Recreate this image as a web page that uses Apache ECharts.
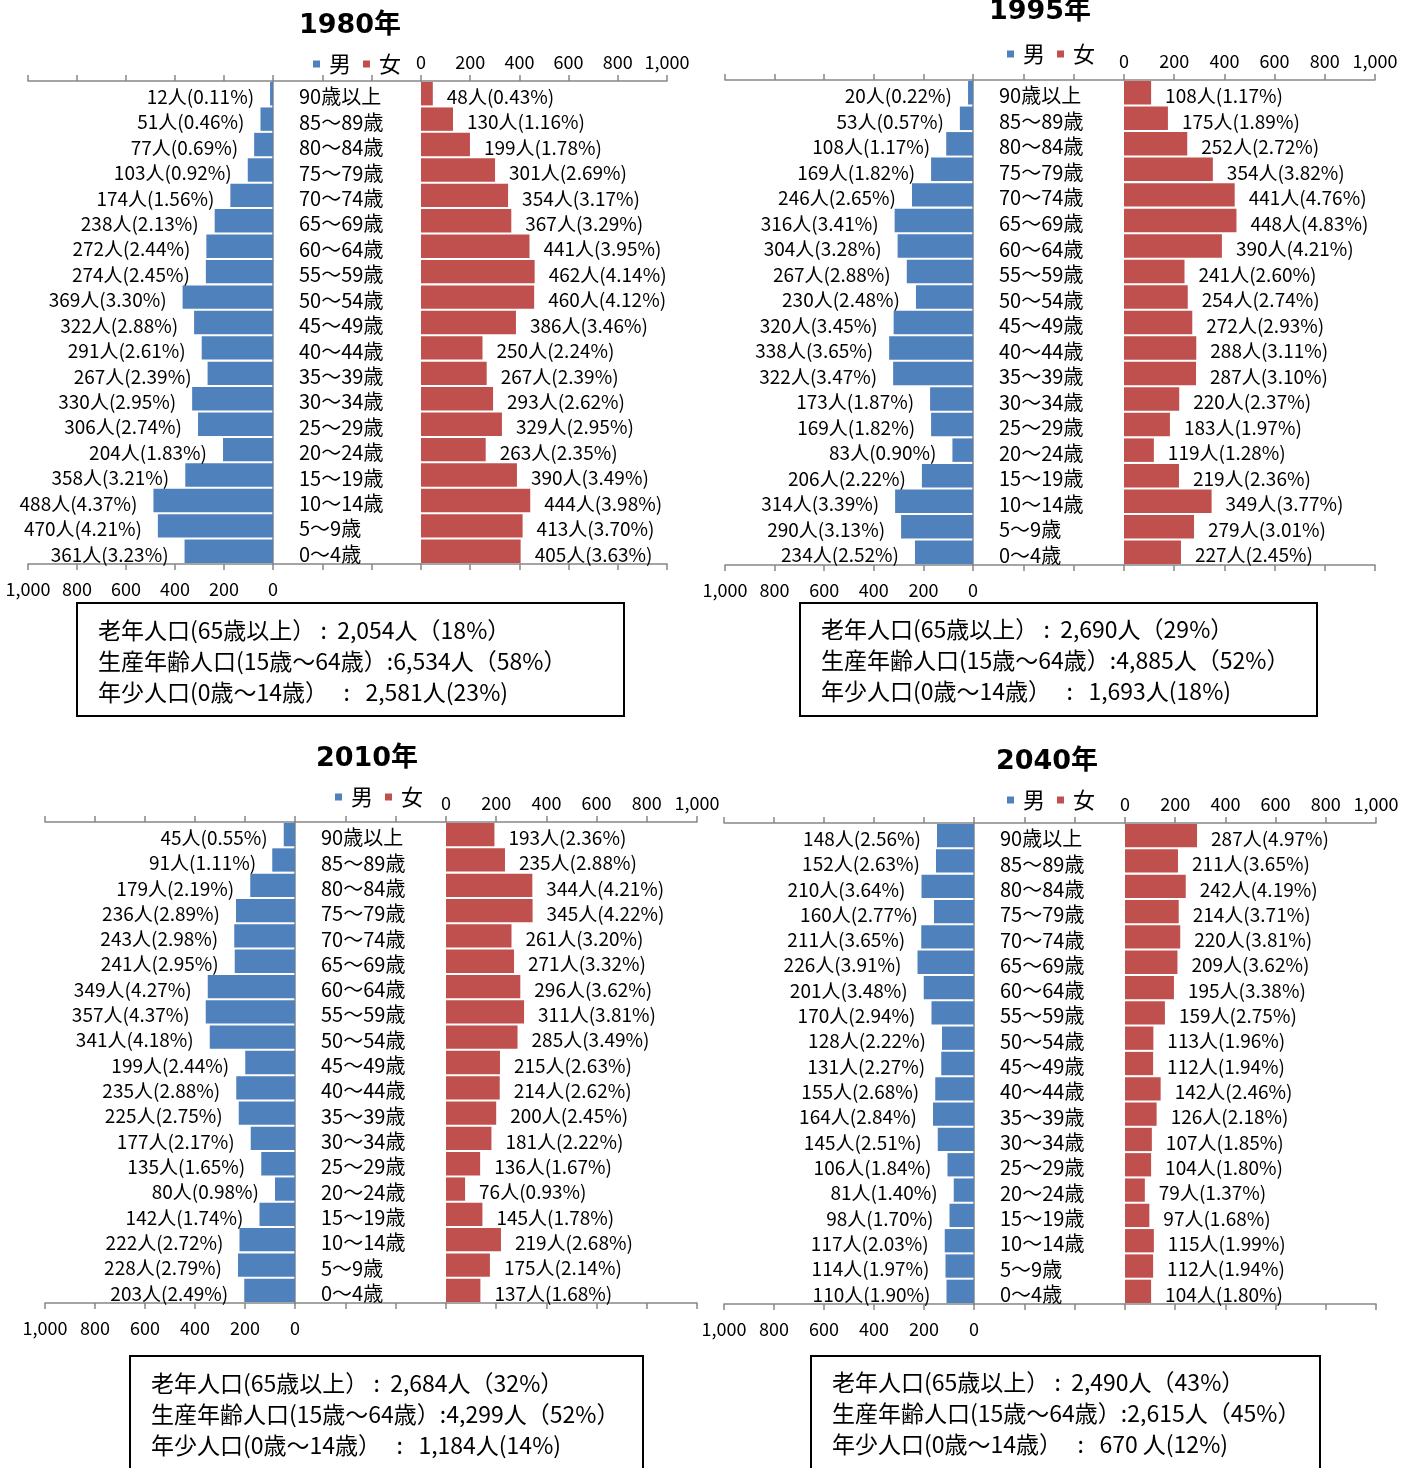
<!DOCTYPE html>
<html><head><meta charset="utf-8">
<script src="https://cdn.jsdelivr.net/npm/echarts@6/dist/echarts.min.js"></script>
<style>html,body{margin:0;padding:0;background:#fff}#c{width:1417px;height:1468px}</style>
</head><body><div id="c"></div>
<script>
// ---------------- DATA ----------------
const categories = ['90歳以上','85～89歳','80～84歳','75～79歳','70～74歳','65～69歳','60～64歳','55～59歳','50～54歳','45～49歳','40～44歳','35～39歳','30～34歳','25～29歳','20～24歳','15～19歳','10～14歳','5～9歳','0～4歳'];
const years = ['1980年','1995年','2010年','2040年'];
const axisTicks = [0,200,400,600,800,1000];

const male1980   = [12,51,77,103,174,238,272,274,369,322,291,267,330,306,204,358,488,470,361];
const malePct1980= [0.11,0.46,0.69,0.92,1.56,2.13,2.44,2.45,3.30,2.88,2.61,2.39,2.95,2.74,1.83,3.21,4.37,4.21,3.23];
const female1980 = [48,130,199,301,354,367,441,462,460,386,250,267,293,329,263,390,444,413,405];
const femalePct1980=[0.43,1.16,1.78,2.69,3.17,3.29,3.95,4.14,4.12,3.46,2.24,2.39,2.62,2.95,2.35,3.49,3.98,3.70,3.63];

const male1995   = [20,53,108,169,246,316,304,267,230,320,338,322,173,169,83,206,314,290,234];
const malePct1995= [0.22,0.57,1.17,1.82,2.65,3.41,3.28,2.88,2.48,3.45,3.65,3.47,1.87,1.82,0.90,2.22,3.39,3.13,2.52];
const female1995 = [108,175,252,354,441,448,390,241,254,272,288,287,220,183,119,219,349,279,227];
const femalePct1995=[1.17,1.89,2.72,3.82,4.76,4.83,4.21,2.60,2.74,2.93,3.11,3.10,2.37,1.97,1.28,2.36,3.77,3.01,2.45];

const male2010   = [45,91,179,236,243,241,349,357,341,199,235,225,177,135,80,142,222,228,203];
const malePct2010= [0.55,1.11,2.19,2.89,2.98,2.95,4.27,4.37,4.18,2.44,2.88,2.75,2.17,1.65,0.98,1.74,2.72,2.79,2.49];
const female2010 = [193,235,344,345,261,271,296,311,285,215,214,200,181,136,76,145,219,175,137];
const femalePct2010=[2.36,2.88,4.21,4.22,3.20,3.32,3.62,3.81,3.49,2.63,2.62,2.45,2.22,1.67,0.93,1.78,2.68,2.14,1.68];

const male2040   = [148,152,210,160,211,226,201,170,128,131,155,164,145,106,81,98,117,114,110];
const malePct2040= [2.56,2.63,3.64,2.77,3.65,3.91,3.48,2.94,2.22,2.27,2.68,2.84,2.51,1.84,1.40,1.70,2.03,1.97,1.90];
const female2040 = [287,211,242,214,220,209,195,159,113,112,142,126,107,104,79,97,115,112,104];
const femalePct2040=[4.97,3.65,4.19,3.71,3.81,3.62,3.38,2.75,1.96,1.94,2.46,2.18,1.85,1.80,1.37,1.68,1.99,1.94,1.80];

const summary1980 = ['老年人口(65歳以上） :  2,054人（18%）','生産年齢人口(15歳～64歳）:6,534人（58%）','年少人口(0歳～14歳）   :   2,581人(23%)'];
const summary1995 = ['老年人口(65歳以上） :  2,690人（29%）','生産年齢人口(15歳～64歳）:4,885人（52%）','年少人口(0歳～14歳）   :   1,693人(18%)'];
const summary2010 = ['老年人口(65歳以上） :  2,684人（32%）','生産年齢人口(15歳～64歳）:4,299人（52%）','年少人口(0歳～14歳）   :   1,184人(14%)'];
const summary2040 = ['老年人口(65歳以上） :  2,490人（43%）','生産年齢人口(15歳～64歳）:2,615人（45%）','年少人口(0歳～14歳）   :   670 人(12%)'];

const panelsData = [
  {year:years[0], male:male1980, malePct:malePct1980, female:female1980, femalePct:femalePct1980, summary:summary1980},
  {year:years[1], male:male1995, malePct:malePct1995, female:female1995, femalePct:femalePct1995, summary:summary1995},
  {year:years[2], male:male2010, malePct:malePct2010, female:female2010, femalePct:femalePct2010, summary:summary2010},
  {year:years[3], male:male2040, malePct:malePct2040, female:female2040, femalePct:femalePct2040, summary:summary2040}
];

// ---------------- LAYOUT (pixels) ----------------
const layout = [
  {lmin:28,  l0:273, r0:421,  rmax:667,  top:81,  bot:564,  tx:345,  ty:7,   lgx:308,  lgy:48,  box:[77,603,547,113],   bx:98,  by:630},
  {lmin:725, l0:973, r0:1124, rmax:1375, top:80,  bot:565,  tx:1035, ty:-7,  lgx:1002, lgy:38,  box:[800,603,517,113],  bx:821, by:629},
  {lmin:45,  l0:295, r0:446,  rmax:697,  top:822, bot:1303, tx:362,  ty:740, lgx:330,  lgy:781, box:[130,1356,513,130], bx:151, by:1383},
  {lmin:724, l0:974, r0:1125, rmax:1376, top:823, bot:1304, tx:1042, ty:743, lgx:1002, lgy:784, box:[811,1356,509,130], bx:832, by:1382}
];
const LABEL_DROP = 3;

const FONT = '"Noto Sans CJK JP", "Noto Sans", sans-serif';
const AX = '#868686';
const BLUE = '#4F81BD', RED = '#C0504D';
const fmt = v => v.toLocaleString('en-US');

const option = {
  animation:false,
  backgroundColor:'#fff',
  textStyle:{fontFamily:FONT},
  title:[], legend:[], grid:[], xAxis:[], yAxis:[], series:[], graphic:[]
};

panelsData.forEach((pd, p) => {
  const L = layout[p];
  const g = p*4;
  option.title.push({text:pd.year, left:L.tx, top:L.ty, textAlign:'center',
    textStyle:{fontFamily:'"DejaVu Sans", "Noto Sans CJK JP", sans-serif', fontWeight:'bold', fontSize:27, color:'#000'}});
  option.legend.push({data:['男','女'], left:L.lgx, top:L.lgy, icon:'rect', itemWidth:7, itemHeight:7, itemGap:12,
    textStyle:{fontSize:22, color:'#000', padding:[0,0,0,4]}, selectedMode:false});
  const h = L.bot - L.top;
  option.grid.push({left:L.lmin, top:L.top, width:L.l0-L.lmin, height:h});
  option.grid.push({left:L.l0, top:L.top, width:L.r0-L.l0, height:h});
  option.grid.push({left:L.r0, top:L.top, width:L.rmax-L.r0, height:h});
  option.grid.push({left:L.l0, top:L.top+LABEL_DROP, width:L.r0-L.l0, height:h});

  const base = {type:'value', interval:200, splitLine:{show:false},
    axisLine:{show:true, lineStyle:{color:AX, width:1.5}}, axisTick:{show:true, length:6, lineStyle:{color:AX, width:1.5}}};
  const lab = (m)=>({show:true, margin:m, fontSize:18, color:'#000', formatter:fmt, showMinLabel:true, showMaxLabel:true});
  const x0 = option.xAxis.length;
  // male axes
  option.xAxis.push(Object.assign({}, base, {gridIndex:g, position:'bottom', inverse:true, min:axisTicks[0], max:axisTicks[axisTicks.length-1], axisLabel:lab(16)}));
  option.xAxis.push(Object.assign({}, base, {gridIndex:g, position:'top', inverse:true, min:0, max:1000, axisLabel:{show:false}}));
  // centre axes
  option.xAxis.push(Object.assign({}, base, {gridIndex:g+1, position:'bottom', min:0, max:600, axisLabel:{show:false}}));
  option.xAxis.push(Object.assign({}, base, {gridIndex:g+1, position:'top', min:0, max:600, axisLabel:{show:false}}));
  // female axes
  option.xAxis.push(Object.assign({}, base, {gridIndex:g+2, position:'top', min:axisTicks[0], max:axisTicks[axisTicks.length-1], axisLabel:lab(10)}));
  option.xAxis.push(Object.assign({}, base, {gridIndex:g+2, position:'bottom', min:0, max:1000, axisLabel:{show:false}}));
  // label grid (hidden x)
  option.xAxis.push({type:'value', gridIndex:g+3, show:false, min:0, max:600});

  const y0 = option.yAxis.length;
  option.yAxis.push({type:'category', gridIndex:g, data:categories, inverse:true, show:false});
  option.yAxis.push({type:'category', gridIndex:g+1, data:categories, inverse:true, position:'left',
    axisLine:{show:true, lineStyle:{color:AX, width:1.5}}, axisTick:{show:false}, axisLabel:{show:false}});
  option.yAxis.push({type:'category', gridIndex:g+2, data:categories, inverse:true, show:false});
  option.yAxis.push({type:'category', gridIndex:g+3, data:categories, inverse:true, position:'left',
    axisLine:{show:false}, axisTick:{show:false},
    axisLabel:{inside:true, interval:0, margin:26, fontSize:20, color:'#000'}});

  option.series.push({name:'男', type:'bar', xAxisIndex:x0, yAxisIndex:y0, data:pd.male, barCategoryGap:'8%',
    itemStyle:{color:BLUE},
    label:{show:true, position:'left', distance:16, offset:[0,LABEL_DROP], fontSize:19, color:'#000',
      formatter: o => o.value + '人(' + pd.malePct[o.dataIndex].toFixed(2) + '%)'}});
  option.series.push({name:'女', type:'bar', xAxisIndex:x0+4, yAxisIndex:y0+2, data:pd.female, barCategoryGap:'8%',
    itemStyle:{color:RED},
    label:{show:true, position:'right', distance:14, offset:[0,LABEL_DROP], fontSize:19, color:'#000',
      formatter: o => o.value + '人(' + pd.femalePct[o.dataIndex].toFixed(2) + '%)'}});

  option.graphic.push({type:'rect', shape:{x:L.box[0], y:L.box[1], width:L.box[2], height:L.box[3]},
    style:{fill:'none', stroke:'#000', lineWidth:2}, z:10});
  pd.summary.forEach((t,i)=>{
    option.graphic.push({type:'text', x:L.bx, y:L.by + i*31, z:11,
      style:{text:t, fill:'#000', font:'23px "Noto Sans CJK JP"', verticalAlign:'middle', align:'left'}});
  });
});

const chart = echarts.init(document.getElementById('c'), null, {renderer:'canvas'});
chart.setOption(option);
</script></body></html>
